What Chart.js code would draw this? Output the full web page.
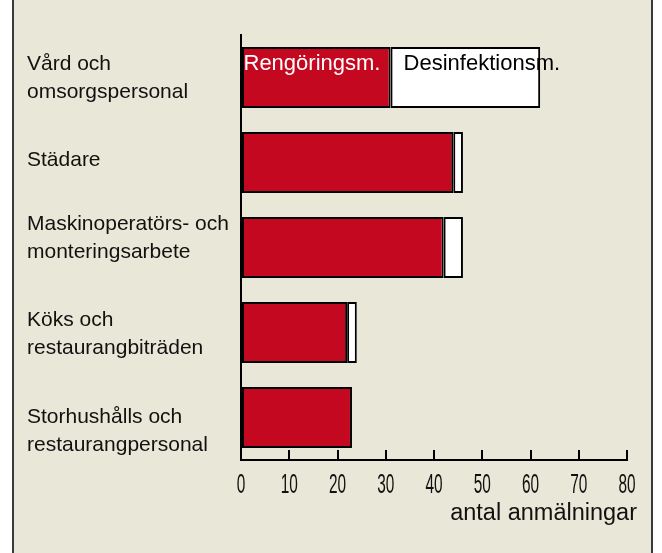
<!DOCTYPE html>
<html>
<head>
<meta charset="utf-8">
<script src="https://cdn.jsdelivr.net/npm/chart.js@4"></script>
<style>
  html, body { margin: 0; padding: 0; background: #fff; }
  #frame {
    position: absolute; left: 12px; top: 0; width: 637px; height: 553px;
    background: #E9E7D8; border-left: 2px solid #3a3a3a; border-right: 2px solid #3a3a3a;
  }
  #chart { position: absolute; left: 0; top: 0; }
</style>
</head>
<body>
<div id="frame"></div>
<canvas id="chart" width="662" height="553"></canvas>
<script>
// --- data ---
const categories = [
  ['Vård och', 'omsorgspersonal'],
  ['Städare'],
  ['Maskinoperatörs- och', 'monteringsarbete'],
  ['Köks och', 'restaurangbiträden'],
  ['Storhushålls och', 'restaurangpersonal']
];
const seriesNames = ['Rengöringsm.', 'Desinfektionsm.'];
const rengoring = [31, 44, 42, 22, 23];
const desinfektion = [31, 2, 4, 2, null];
const xMin = 0, xMax = 80, xStep = 10;
const axisTitle = 'antal anmälningar';

// small vertical nudges for the category labels (style only)
const labelNudge = [-1, -4, -11, 0, 12];

const FONT = "'Liberation Sans', Arial, sans-serif";
const RED = '#C4081F';

// draws labels (categories, ticks, title, series names) off the scales
const textPlugin = {
  id: 'texts',
  afterDraw(chart) {
    const ctx = chart.ctx;
    const xs = chart.scales.x, ys = chart.scales.y;
    ctx.save();
    ctx.fillStyle = '#111';

    // category labels, left aligned
    ctx.font = '21px ' + FONT;
    ctx.textAlign = 'left';
    ctx.textBaseline = 'alphabetic';
    const lh = 27.3;
    categories.forEach((lines, i) => {
      const c = ys.getPixelForTick(i);
      const b1 = c - (lines.length - 1) * lh / 2 + 7.5 + labelNudge[i];
      lines.forEach((t, k) => ctx.fillText(t, 27, b1 + k * lh));
    });

    // condensed x tick labels
    ctx.font = '28px ' + FONT;
    ctx.textAlign = 'center';
    xs.ticks.forEach(t => {
      const px = xs.getPixelForValue(t.value);
      ctx.save();
      ctx.translate(px, xs.top + 33);
      ctx.scale(0.55, 1);
      ctx.fillText(String(t.value), 0, 0);
      ctx.restore();
    });

    // axis title
    ctx.font = '23.5px ' + FONT;
    ctx.textAlign = 'right';
    ctx.fillText(axisTitle, xs.right + 10, xs.top + 60);

    // series names inside the first bar
    ctx.font = '22px ' + FONT;
    ctx.textAlign = 'left';
    const b0 = chart.getDatasetMeta(0).data[0];
    const b1 = chart.getDatasetMeta(1).data[0];
    const base = b0.y - b0.height / 2 + 23.5;
    ctx.fillStyle = '#fff';
    ctx.fillText(seriesNames[0], b0.base + 1.5, base);
    ctx.fillStyle = '#000';
    ctx.fillText(seriesNames[1], b1.base + 13, base);
    ctx.restore();
  }
};

new Chart(document.getElementById('chart'), {
  type: 'bar',
  data: {
    labels: categories,
    datasets: [
      { label: seriesNames[0], data: rengoring, backgroundColor: RED },
      { label: seriesNames[1], data: desinfektion, backgroundColor: '#fff' }
    ]
  },
  options: {
    indexAxis: 'y',
    responsive: false,
    animation: false,
    layout: { padding: { top: 35, right: 35, left: 0, bottom: 0 } },
    datasets: {
      bar: {
        borderColor: '#000', borderWidth: 2, borderSkipped: false,
        barPercentage: 0.72, categoryPercentage: 1
      }
    },
    plugins: { legend: { display: false }, tooltip: { enabled: false } },
    scales: {
      x: {
        stacked: true, min: xMin, max: xMax,
        ticks: { stepSize: xStep, display: false },
        grid: { drawOnChartArea: false, color: '#000', lineWidth: 2, tickLength: -10 },
        border: { color: '#000', width: 2 },
        afterFit: s => { s.height = 93; }
      },
      y: {
        stacked: true,
        ticks: { display: false },
        grid: { display: false },
        border: { color: '#000', width: 2 },
        afterFit: s => { s.width = 241; }
      }
    }
  },
  plugins: [textPlugin]
});
</script>
</body>
</html>
